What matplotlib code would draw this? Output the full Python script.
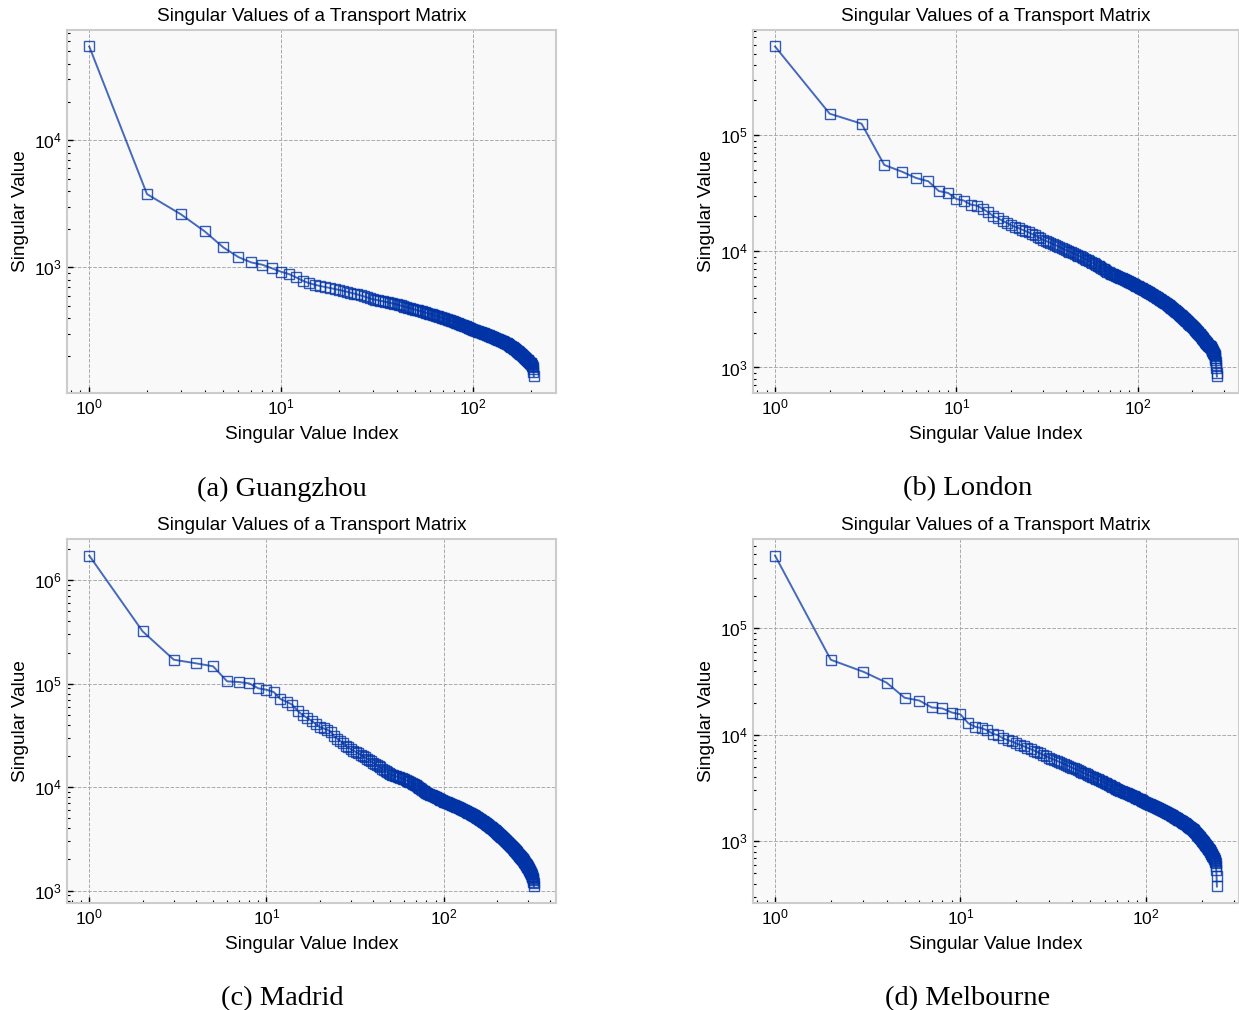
''' Singular value spectra of the transport matrices for four cities '''

import numpy as np
import matplotlib
matplotlib.use('Agg')
import matplotlib.pyplot as plt

# singular values, index starts at 1
guangzhou = [
    54500, 3770, 2620, 1920, 1437, 1205, 1094, 1050, 982, 925, 887, 835, 785, 753, 731,
    715, 702, 690, 678, 667,
    656, 645, 634, 623, 613, 603, 593, 582, 573, 563,
    558, 552, 547, 542, 537, 532, 527, 522, 517, 512,
    507, 503, 498, 493, 489, 484, 480, 475, 471, 466,
    462, 459, 455, 452, 448, 445, 441, 438, 434, 431,
    428, 424, 421, 418, 415, 412, 409, 406, 403, 400,
    397, 394, 392, 389, 386, 384, 381, 378, 376, 373,
    371, 368, 366, 363, 361, 358, 356, 353, 351, 349,
    346, 344, 341, 339, 337, 334, 332, 330, 327, 325,
    323, 321, 320, 318, 316, 315, 313, 312, 310, 309,
    307, 306, 304, 303, 301, 300, 298, 297, 295, 294,
    292, 291, 289, 288, 286, 285, 283, 282, 281, 279,
    278, 276, 275, 274, 272, 271, 270, 268, 267, 266,
    264, 263, 262, 260, 259, 258, 257, 256, 255, 254,
    252, 250, 249, 247, 245, 243, 242, 240, 238, 237,
    235, 233, 232, 230, 229, 227, 225, 224, 222, 221,
    219, 218, 216, 215, 213, 212, 210, 209, 207, 205,
    204, 202, 201, 199, 198, 196, 195, 193, 192, 190,
    189, 188, 186, 185, 183, 182, 181, 179, 178, 177,
    175, 173, 171, 168, 164, 159, 151, 139,
]

london = [
    583000, 153800, 126000, 55600, 48700, 42900, 40200, 33100, 31900, 28300,
    27400, 25300, 24800, 23200, 21700, 20100, 19300, 18300, 17600, 16800,
    16300, 15900, 15400, 15000, 14600, 14200, 13800, 13400, 13000, 12600,
    12350, 12100, 11850, 11600, 11400, 11150, 10950, 10700, 10500, 10300,
    10130, 9970, 9810, 9650, 9500, 9350, 9200, 9050, 8910, 8770,
    8640, 8510, 8380, 8260, 8140, 8020, 7900, 7780, 7660, 7550,
    7440, 7330, 7220, 7110, 7010, 6900, 6800, 6700, 6600, 6500,
    6440, 6380, 6330, 6270, 6220, 6160, 6110, 6060, 6000, 5950,
    5900, 5850, 5800, 5750, 5700, 5650, 5600, 5550, 5500, 5460,
    5410, 5360, 5320, 5270, 5220, 5180, 5130, 5080, 5040, 4990,
    4950, 4910, 4880, 4840, 4800, 4760, 4720, 4690, 4650, 4610,
    4580, 4540, 4500, 4470, 4430, 4400, 4360, 4330, 4300, 4260,
    4230, 4200, 4160, 4130, 4100, 4070, 4030, 4000, 3970, 3940,
    3910, 3880, 3850, 3820, 3790, 3760, 3730, 3700, 3670, 3640,
    3610, 3590, 3560, 3530, 3500, 3470, 3450, 3420, 3390, 3360,
    3330, 3310, 3280, 3250, 3230, 3200, 3180, 3150, 3130, 3100,
    3080, 3050, 3030, 3000, 2980, 2960, 2930, 2910, 2890, 2860,
    2840, 2820, 2790, 2770, 2750, 2730, 2700, 2680, 2660, 2640,
    2620, 2600, 2580, 2560, 2530, 2510, 2490, 2470, 2450, 2430,
    2410, 2390, 2370, 2350, 2340, 2320, 2300, 2290, 2270, 2260,
    2240, 2220, 2200, 2190, 2170, 2150, 2130, 2110, 2100, 2080,
    2060, 2040, 2030, 2010, 1990, 1980, 1960, 1940, 1930, 1910,
    1900, 1880, 1860, 1850, 1830, 1820, 1800, 1790, 1770, 1760,
    1740, 1730, 1710, 1700, 1680, 1670, 1660, 1640, 1630, 1610,
    1600, 1590, 1570, 1560, 1550, 1540, 1535, 1530, 1525, 1520,
    1505, 1490, 1475, 1458, 1440, 1425, 1410, 1395, 1380, 1365,
    1345, 1330, 1315, 1300, 1285,
    1250, 1210, 1165, 1110, 1054, 987, 893, 836,
]

madrid = [
    1734000, 321000, 170700, 157500, 147300, 105400, 103800, 100700, 90200, 87500,
    83000, 71000, 66900, 62600, 54700, 49700, 46500, 43800, 40700, 38000,
    37000, 36000, 34500, 31300, 29500, 28000, 27000, 25100, 24200, 23200,
    22500, 21900, 21200, 20600, 20000, 19400, 18800, 18300, 17700, 17200,
    16800, 16300, 15900, 15500, 15100, 14700, 14400, 14000, 13600, 13300,
    13150, 13000, 12850, 12700, 12560, 12420, 12280, 12140, 12020, 11900,
    11740, 11580, 11430, 11270, 11120, 10970, 10830, 10680, 10540, 10400,
    10230, 10060, 9890, 9730, 9570, 9410, 9250, 9100, 8950, 8800,
    8720, 8640, 8560, 8480, 8400, 8320, 8250, 8170, 8090, 8020,
    7950, 7870, 7800, 7730, 7660, 7590, 7520, 7450, 7380, 7310,
    7260, 7210, 7160, 7120, 7070, 7020, 6970, 6930, 6880, 6840,
    6790, 6750, 6700, 6660, 6610, 6570, 6530, 6480, 6440, 6400,
    6360, 6310, 6270, 6230, 6190, 6150, 6110, 6070, 6030, 5990,
    5950, 5910, 5870, 5830, 5790, 5760, 5720, 5680, 5640, 5610,
    5570, 5530, 5500, 5460, 5430, 5390, 5360, 5320, 5290, 5260,
    5230, 5190, 5150, 5110, 5080, 5040, 5000, 4970, 4930, 4890,
    4860, 4820, 4790, 4750, 4720, 4680, 4650, 4620, 4580, 4550,
    4510, 4480, 4450, 4420, 4380, 4350, 4320, 4290, 4260, 4230,
    4190, 4160, 4130, 4100, 4070, 4040, 4010, 3980, 3950, 3930,
    3900, 3870, 3840, 3810, 3780, 3750, 3730, 3700, 3670, 3640,
    3600, 3570, 3550, 3520, 3490, 3470, 3440, 3420, 3390, 3370,
    3340, 3320, 3290, 3270, 3240, 3220, 3190, 3170, 3150, 3120,
    3100, 3080, 3050, 3030, 3010, 2980, 2960, 2940, 2920, 2900,
    2870, 2850, 2830, 2810, 2790, 2770, 2750, 2730, 2710, 2690,
    2670, 2650, 2630, 2610, 2590, 2570, 2560, 2540, 2520, 2500,
    2480, 2460, 2440, 2420, 2400, 2390, 2370, 2350, 2330, 2310,
    2300, 2280, 2260, 2240, 2230, 2210, 2190, 2180, 2160, 2140,
    2130, 2110, 2100, 2080, 2060, 2050, 2030, 2020, 2000, 1990,
    1975, 1955, 1940, 1920, 1900, 1885, 1865, 1850, 1830, 1815,
    1800, 1780, 1765, 1750, 1730, 1715, 1700, 1685, 1670, 1660,
    1650, 1630, 1610, 1590, 1570, 1550, 1530, 1510, 1495, 1480,
    1470, 1450, 1430, 1410, 1390, 1365, 1340, 1318, 1290, 1260,
    1222, 1170, 1094,
]

melbourne = [
    483000, 50700, 39100, 30900, 22300, 21000, 18100, 17700, 16200, 15600,
    12900, 11900, 11560, 10990, 10200, 9930, 9250, 8920, 8660, 8300,
    8050, 7800, 7560, 7330, 7110, 6900, 6690, 6490, 6300, 6110,
    5980, 5850, 5720, 5600, 5480, 5360, 5250, 5130, 5030, 4920,
    4830, 4750, 4660, 4580, 4500, 4420, 4340, 4260, 4190, 4110,
    4050, 3990, 3930, 3880, 3820, 3770, 3710, 3660, 3600, 3550,
    3500, 3450, 3400, 3350, 3300, 3250, 3210, 3160, 3110, 3070,
    3040, 3010, 2980, 2950, 2930, 2900, 2870, 2840, 2820, 2790,
    2760, 2740, 2710, 2690, 2660, 2640, 2610, 2590, 2560, 2540,
    2510, 2490, 2470, 2440, 2420, 2400, 2370, 2350, 2330, 2300,
    2280, 2270, 2250, 2240, 2220, 2200, 2190, 2170, 2160, 2140,
    2130, 2110, 2100, 2080, 2070, 2050, 2040, 2020, 2010, 1990,
    1980, 1960, 1950, 1940, 1920, 1910, 1900, 1880, 1870, 1850,
    1840, 1830, 1810, 1800, 1790, 1780, 1760, 1750, 1740, 1720,
    1710, 1700, 1690, 1670, 1660, 1650, 1640, 1630, 1610, 1600,
    1590, 1580, 1570, 1555, 1545, 1535, 1525, 1510, 1500, 1490,
    1480, 1470, 1460, 1450, 1440, 1425, 1415, 1405, 1395, 1385,
    1375, 1365, 1355, 1345, 1335, 1325, 1315, 1305, 1295, 1288,
    1274, 1260, 1246, 1233, 1220, 1207, 1194, 1181, 1168, 1155,
    1143, 1130, 1118, 1106, 1094, 1082, 1071, 1059, 1048, 1037,
    1026, 1015, 1004, 993, 982, 971, 961, 950, 940, 930,
    920, 910, 900, 890, 880, 871, 861, 852, 843, 834,
    822, 810, 798, 787, 776, 765, 754, 743, 732, 722,
    711, 701, 691, 681, 671,
    655, 640, 625, 585, 541, 468, 376,
]

captions = ['(a) Guangzhou', '(b) London', '(c) Madrid', '(d) Melbourne']
series = [guangzhou, london, madrid, melbourne]


def _main():
    plt.rcParams.update({
        'font.family': ['Liberation Sans', 'DejaVu Sans'],
        'mathtext.default': 'regular',
        'font.size': 13,
    })

    fig = plt.figure(figsize=(12.39, 10.10), dpi=100)

    # axes boxes in figure fractions (left, bottom, width, height)
    boxes = [
        [0.0541, 0.6109, 0.3947, 0.3594],
        [0.6077, 0.6109, 0.3923, 0.3594],
        [0.0541, 0.1059, 0.3947, 0.3604],
        [0.6077, 0.1059, 0.3923, 0.3604],
    ]
    caption_pos = [(0.2276, 0.5158), (0.781, 0.5158), (0.2276, 0.0109), (0.781, 0.0109)]

    color = '#0033a6'
    for box, vals, cap, cpos in zip(boxes, series, captions, caption_pos):
        axis = fig.add_axes(box)
        idx = np.arange(1, len(vals) + 1)
        axis.set_facecolor('#f9f9f9')
        axis.plot(idx, vals, '-', color=color, alpha=0.72, linewidth=1.4)
        axis.plot(idx, vals, 's', markerfacecolor='none', markeredgecolor=color,
                  markersize=7, markeredgewidth=1.0, alpha=0.8)
        axis.set_xscale('log')
        axis.set_yscale('log')
        axis.set_title('Singular Values of a Transport Matrix', fontsize=13.7, pad=6.5)
        axis.set_xlabel('Singular Value Index', fontsize=13.7, labelpad=6)
        axis.set_ylabel('Singular Value', fontsize=13.7)
        axis.grid(True, which='major', linestyle='--', linewidth=0.7, color='#aaaaaa')
        axis.tick_params(which='both', direction='in', colors='black', labelsize=12.5)
        axis.tick_params(which='major', length=4, width=1)
        axis.tick_params(which='minor', length=2.2, width=0.8)
        for spine in axis.spines.values():
            spine.set_color('#cccccc')
            spine.set_linewidth(1.5)
        fig.text(cpos[0], cpos[1], cap, ha='center', va='center',
                 family=['Liberation Serif', 'DejaVu Serif'], fontsize=20.5)

    fig.savefig('out.png', dpi=100)


if __name__ == '__main__':
    _main()
